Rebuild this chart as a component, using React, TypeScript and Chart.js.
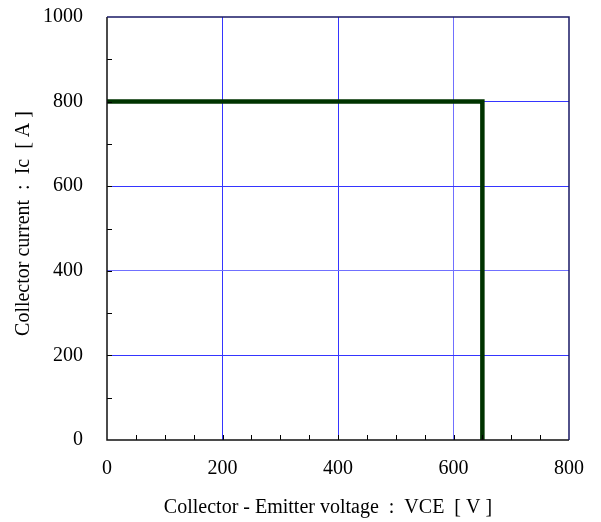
import React, { useEffect, useRef } from "react";
import { Chart, registerables } from "chart.js";

Chart.register(...registerables);

const curveVce = [0, 650, 650];
const curveIc = [800, 800, 0];
const xMax = 800;
const yMax = 1000;
const xMajor = 200;
const yMajor = 200;
const xMinor = 50;
const yMinor = 100;
const xTitle = "Collector - Emitter voltage  :  VCE  [ V ]    ";
const yTitle = "  Collector current  :  Ic  [ A ]";

const FONT = "'Liberation Serif', 'Times New Roman', serif";

const frame = {
  id: "frame",
  afterDraw(chart: any) {
    const { ctx, chartArea: a, scales } = chart;
    ctx.save();
    ctx.strokeStyle = "#000";
    ctx.lineWidth = 1;
    for (let v = xMinor; v < xMax; v += xMinor) {
      const px = Math.round(scales.x.getPixelForValue(v)) + 0.5;
      ctx.beginPath();
      ctx.moveTo(px, a.bottom);
      ctx.lineTo(px, a.bottom - 5);
      ctx.stroke();
    }
    for (let v = yMinor; v < yMax; v += yMinor) {
      const py = Math.round(scales.y.getPixelForValue(v)) + 0.5;
      ctx.beginPath();
      ctx.moveTo(a.left, py);
      ctx.lineTo(a.left + 5, py);
      ctx.stroke();
    }
    ctx.lineWidth = 1.5;
    ctx.strokeStyle = "#111";
    ctx.beginPath();
    ctx.moveTo(a.left, a.top);
    ctx.lineTo(a.left, a.bottom);
    ctx.lineTo(a.right, a.bottom);
    ctx.stroke();
    ctx.strokeStyle = "#1a1a66";
    ctx.beginPath();
    ctx.moveTo(a.left, a.top);
    ctx.lineTo(a.right, a.top);
    ctx.lineTo(a.right, a.bottom);
    ctx.stroke();
    ctx.restore();
  },
};

export default function App() {
  const ref = useRef<HTMLCanvasElement>(null);
  useEffect(() => {
    const data = curveVce.map((x, i) => ({ x, y: curveIc[i] }));
    const chart = new Chart(ref.current!, {
      type: "scatter",
      data: {
        datasets: [
          {
            data,
            showLine: true,
            borderColor: "#003300",
            borderWidth: 4.5,
            pointRadius: 0,
            borderJoinStyle: "miter",
          },
        ],
      },
      options: {
        animation: false,
        responsive: false,
        layout: { padding: { top: 0, right: 32, left: 6, bottom: 2 } },
        plugins: { legend: { display: false }, tooltip: { enabled: false } },
        scales: {
          x: {
            type: "linear",
            min: 0,
            max: xMax,
            afterFit: (s: any) => {
              s.height = 80;
            },
            ticks: {
              stepSize: xMajor,
              color: "#000",
              font: { family: FONT, size: 20 },
              padding: 17,
              maxRotation: 0,
              callback: (v: any) => String(v),
            },
            grid: {
              drawTicks: false,
              color: (c: any) => {
                const v = c.scale?.ticks?.[c.index]?.value;
                if (v === 0 || v === xMax) return "rgba(0,0,0,0)";
                return v === 600 ? "#7070ff" : "#3535ff";
              },
              lineWidth: 1,
            },
            border: { display: false },
            title: {
              display: true,
              text: xTitle,
              color: "#000",
              font: { family: FONT, size: 20 },
              padding: { top: 16, bottom: 0 },
            },
          },
          y: {
            type: "linear",
            min: 0,
            max: yMax,
            afterFit: (s: any) => {
              s.width = 101;
              s.paddingTop = 17;
              s.paddingBottom = 12;
            },
            ticks: {
              stepSize: yMajor,
              color: "#000",
              font: { family: FONT, size: 20 },
              padding: 24,
              callback: (v: any) => String(v),
            },
            grid: {
              drawTicks: false,
              color: (c: any) => {
                const v = c.scale?.ticks?.[c.index]?.value;
                if (v === 0 || v === yMax) return "rgba(0,0,0,0)";
                return v === 400 ? "#7070ff" : "#3535ff";
              },
              lineWidth: 1,
            },
            border: { display: false },
            title: {
              display: true,
              text: yTitle,
              color: "#000",
              font: { family: FONT, size: 20 },
              padding: { top: 6, bottom: 0 },
            },
          },
        },
      },
      plugins: [frame],
    });
    return () => chart.destroy();
  }, []);
  return (
    <div style={{ position: "absolute", left: 0, top: 0, width: 601, height: 522, background: "#fff" }}>
      <canvas ref={ref} width={601} height={522} />
    </div>
  );
}
